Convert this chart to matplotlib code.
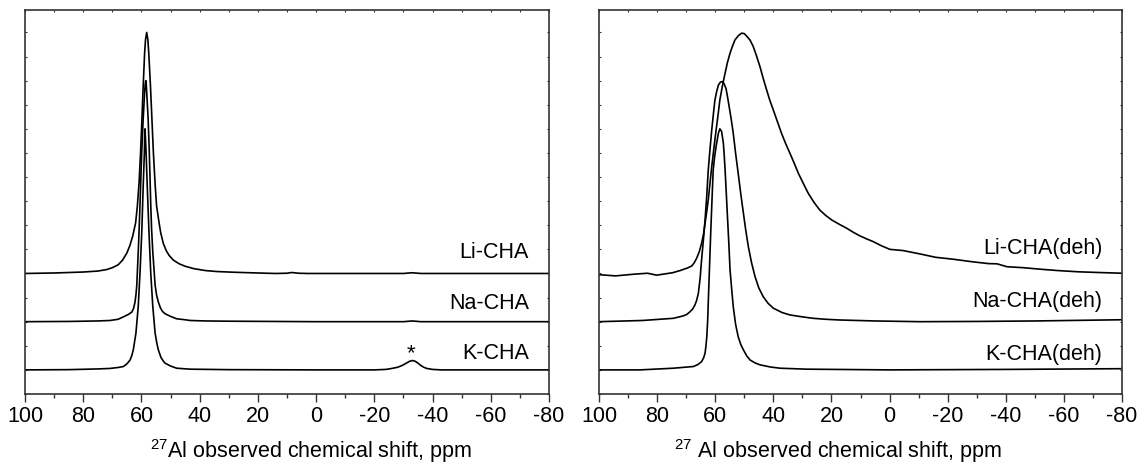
import matplotlib
matplotlib.use("Agg")
import numpy as np
from matplotlib import pyplot as plt
from matplotlib.ticker import MultipleLocator, NullFormatter

plt.rcParams['font.family'] = ['Liberation Sans', 'DejaVu Sans']
plt.rcParams['mathtext.fontset'] = 'custom'
plt.rcParams['mathtext.rm'] = 'Liberation Sans'
plt.rcParams['axes.unicode_minus'] = False

FS = 15.5

# 27Al MAS NMR spectra, (ppm, normalised intensity) points, peak = 100
li_cha = [(100, 0), (90, 0.2), (80, 0.6), (75, 1.0), (72, 1.6), (70, 2.4), (68, 3.6),
          (66.5, 5.5), (65, 8.5), (64, 11.5), (63, 15.5), (62, 21.0), (61.4, 28.0),
          (60.8, 38.0), (60.3, 50.2), (59.8, 65.0), (59.4, 77.8), (58.9, 91.7),
          (58.6, 97.0), (58.2, 100), (57.8, 97.0), (57.5, 91.7), (56.9, 77.8),
          (56.4, 64.0), (55.9, 50.2), (55.3, 37.0), (54.8, 28.0), (54.0, 21.5),
          (53.4, 17.0), (52.5, 12.5), (51.5, 9.5), (50.5, 7.5), (49, 5.5), (47, 4.0),
          (45, 3.0), (42, 2.0), (38, 1.2), (34, 0.8), (28, 0.5), (20, 0.2), (14, 0),
          (10, 0.1), (8.4, 0.4), (6, 0.1), (3, 0), (-10, 0), (-30, 0), (-33, 0.3),
          (-36, 0), (-50, 0), (-80, 0)]
na_cha = [(100, 0), (85, 0.1), (75, 0.3), (70.8, 0.5), (68, 1.0), (66.2, 2.0),
          (64.5, 3.0), (63.3, 4.0), (62.7, 5.5), (62.2, 8.2), (61.9, 11.0),
          (61.6, 15.1), (61.1, 28.9), (60.8, 38.0), (60.5, 48.3), (60.2, 59.5),
          (59.9, 70.4), (59.4, 84.2), (58.9, 95.3), (58.7, 98.5), (58.5, 100),
          (58.35, 98.5), (58.2, 95.3), (57.7, 84.2), (57.3, 70.4), (57.05, 59.5),
          (56.8, 48.3), (56.5, 38.0), (56.1, 28.9), (55.3, 15.1), (54.8, 11.0),
          (54.2, 8.2), (53.5, 5.8), (52.8, 4.3), (51.9, 3.3), (50, 2.2), (47.9, 1.2),
          (45, 0.8), (43.3, 0.5), (38, 0.3), (30, 0.2), (0, 0), (-30, 0), (-33, 0.3),
          (-36, 0), (-80, 0)]
k_cha = [(100, 0), (85, 0.1), (75, 0.4), (70.8, 0.6), (68, 1.0), (66.2, 1.4),
         (65, 2.5), (63.9, 4.1), (63.3, 6.0), (62.8, 8.3), (61.9, 15.2),
         (61.1, 26.3), (60.5, 40.1), (59.9, 56.7), (59.4, 76.1), (59.0, 90.0),
         (58.9, 96.0), (58.8, 100), (58.6, 96.0), (58.4, 90.0), (58.0, 76.1),
         (57.4, 56.7), (56.8, 40.1), (56.1, 26.3), (55.3, 15.2), (54.7, 11.0),
         (54.2, 8.3), (53.3, 5.2), (52.5, 3.7), (51.9, 2.8), (50, 1.6), (47.9, 0.7),
         (43.3, 0.3), (30, 0.1), (0, 0), (-20, 0), (-24, 0.2), (-26, 0.6),
         (-28, 1.1), (-29.5, 1.8), (-31, 2.8), (-32, 3.5), (-33, 3.9), (-34, 3.6),
         (-35, 2.8), (-36, 1.8), (-37, 1.1), (-38, 0.6), (-40, 0.2), (-43, 0),
         (-80, 0)]

li_deh = [(100, 0), (94.3, -0.5), (88, 0.2), (83.3, 0.6), (80.2, -0.2), (74.7, 0.8),
          (72.1, 1.7), (69.5, 2.8), (68.1, 3.6), (67.2, 5.0), (66.4, 6.8),
          (65.5, 9.5), (64.7, 13.0), (64.0, 17.0), (63.5, 21.3), (63.0, 25.5),
          (62.4, 31.0), (61.8, 38.0), (61.2, 44.8), (60.5, 52.0), (59.7, 60.0),
          (59.0, 66.5), (58.4, 72.5), (57.5, 78.5), (56.6, 83.6), (55.8, 88.0),
          (54.9, 91.9), (54.0, 95.0), (53.2, 97.4), (52.0, 99.2), (50.9, 100.2),
          (50.0, 100.0), (49.2, 99.0), (48.0, 97.3), (46.9, 94.6), (45.8, 90.8),
          (44.6, 86.3), (43.5, 81.5), (42.3, 76.6), (41.2, 72.3), (40.0, 68.3),
          (38.6, 63.5), (37.2, 58.7), (35.8, 54.5), (34.3, 50.4), (32.8, 46.2),
          (31.4, 42.1), (29.7, 37.9), (28.0, 33.8), (26.0, 30.0), (24.0, 26.8),
          (22.0, 24.6), (19.9, 22.7), (17.3, 20.9), (14.8, 19.3), (12.5, 17.6),
          (10.2, 16.1), (8.0, 14.9), (5.6, 13.7), (2.8, 12.0), (-0.1, 10.5),
          (-4.7, 10.0), (-10.5, 8.6), (-15.9, 7.2), (-22, 6.4), (-28.2, 5.4),
          (-34, 4.6), (-37, 4.5), (-40.4, 3.3), (-46, 2.9), (-52.6, 2.2),
          (-58, 1.7), (-64.9, 1.2), (-72, 0.9), (-80, 0.6)]
na_deh = [(100, 0), (85, 0.5), (74.4, 1.4), (71.0, 2.4), (69.8, 3.0), (68.7, 4.1),
          (67.8, 5.2), (67.0, 6.9), (66.4, 8.8), (65.8, 11.8), (65.2, 18.0),
          (64.7, 25.6), (64.1, 33.5), (63.5, 42.2), (62.9, 52.5), (62.4, 62.9),
          (61.8, 71.5), (61.2, 79.5), (60.6, 86.5), (60.1, 92.0), (59.5, 95.5),
          (58.9, 98.2), (58.2, 99.4), (57.6, 99.6), (57.0, 98.8), (56.3, 96.8),
          (55.8, 93.5), (55.2, 89.2), (54.5, 84.0), (53.8, 78.2), (53.0, 70.0),
          (52.1, 61.6), (51.2, 53.0), (50.3, 45.0), (49.5, 38.0), (48.6, 31.1),
          (47.5, 24.5), (46.3, 18.7), (45.0, 14.0), (43.5, 10.4), (41.8, 7.6),
          (40.0, 5.6), (37.0, 3.8), (34.3, 2.8), (30, 2.0), (26.3, 1.4), (22, 1.0),
          (17.1, 0.7), (5, 0.3), (-10.5, 0), (-30, 0.1), (-50, 0.3), (-80, 0.8)]
k_deh = [(100, 0), (85.9, 0), (74.4, 0.7), (67.5, 1.4), (66, 2.2), (64.7, 3.4),
         (64.0, 5.0), (63.5, 6.9), (63.2, 9.8), (62.9, 13.8), (62.6, 20.5),
         (62.4, 27.7), (62.1, 38.0), (61.8, 48.4), (61.5, 58.5), (61.2, 67.8),
         (60.7, 83.0), (60.2, 88.5), (59.7, 92.7), (58.9, 98.2), (58.4, 100),
         (57.8, 98.9), (57.2, 94.1), (56.9, 89.0), (56.6, 83.0), (56.2, 73.5),
         (55.8, 63.9), (55.3, 52.0), (54.9, 41.5), (54.3, 33.0), (53.8, 26.3),
         (53.0, 19.0), (52.1, 13.8), (51.2, 10.5), (50.3, 8.3), (49.2, 5.9),
         (48.0, 4.1), (46.3, 2.9), (44.6, 2.1), (41, 1.2), (37.7, 0.7), (28.5, 0.3),
         (0, 0), (-40, 0.2), (-80, 0.5)]

left_names = ["Li-CHA", "Na-CHA", "K-CHA"]
right_names = ["Li-CHA(deh)", "Na-CHA(deh)", "K-CHA(deh)"]
left_offsets = [50, 30, 10]
right_offsets = [49.5, 30, 10]
left_label_y = [58.6, 37.6, 16.6]
right_label_y = [60.4, 38.3, 16.2]

fig = plt.figure(figsize=(11.38, 4.70), dpi=100)
ax1 = fig.add_axes([25 / 1138, 76 / 470, 524 / 1138, 384 / 470])
ax2 = fig.add_axes([599 / 1138, 76 / 470, 523 / 1138, 384 / 470])


def draw_panel(ax, traces, offsets, names, label_y):
    for pts, off, name, ly in zip(traces, offsets, names, label_y):
        x, y = np.array(pts).T
        ax.plot(x, y + off, color="black", lw=1.2)
        ax.text(0.962, ly, name, transform=ax.get_yaxis_transform(),
                ha="right", va="center", fontsize=FS)
    ax.set_xlim(100, -80)
    ax.set_ylim(0, 159.3)
    ax.xaxis.set_major_locator(MultipleLocator(20))
    ax.xaxis.set_minor_locator(MultipleLocator(10))
    ax.yaxis.set_major_locator(MultipleLocator(10))
    ax.yaxis.set_major_formatter(NullFormatter())
    ax.tick_params(axis="x", which="major", direction="out", length=6, width=1.0,
                   labelsize=FS, pad=3, color="#333333")
    ax.tick_params(axis="x", which="minor", direction="out", length=3, width=1.0,
                   color="#333333")
    ax.tick_params(axis="y", which="major", direction="in", length=1.5, width=0.8,
                   left=True, right=True, color="#333333")
    for s in ax.spines.values():
        s.set_linewidth(1.2)
        s.set_color("#333333")
    # top axis ticks without labels
    top = ax.secondary_xaxis("top")
    top.xaxis.set_major_locator(MultipleLocator(10))
    top.xaxis.set_major_formatter(NullFormatter())
    top.tick_params(direction="in", length=1.5, width=0.8, color="#333333")
    top.spines["top"].set_visible(False)


draw_panel(ax1, [li_cha, na_cha, k_cha], left_offsets, left_names, left_label_y)
draw_panel(ax2, [li_deh, na_deh, k_deh], right_offsets, right_names, right_label_y)

# impurity mark on K-CHA
ax1.text(-32.5, 14.5, "*", ha="center", va="baseline", fontsize=16)

fig.text(310.5 / 1138, 19 / 470, r"$\mathregular{^{27}}$Al observed chemical shift, ppm",
         ha="center", va="center", fontsize=FS)
fig.text(838 / 1138, 19 / 470, r"$\mathregular{^{27}}$ Al observed chemical shift, ppm",
         ha="center", va="center", fontsize=FS)

fig.savefig("out.png", dpi=100)
